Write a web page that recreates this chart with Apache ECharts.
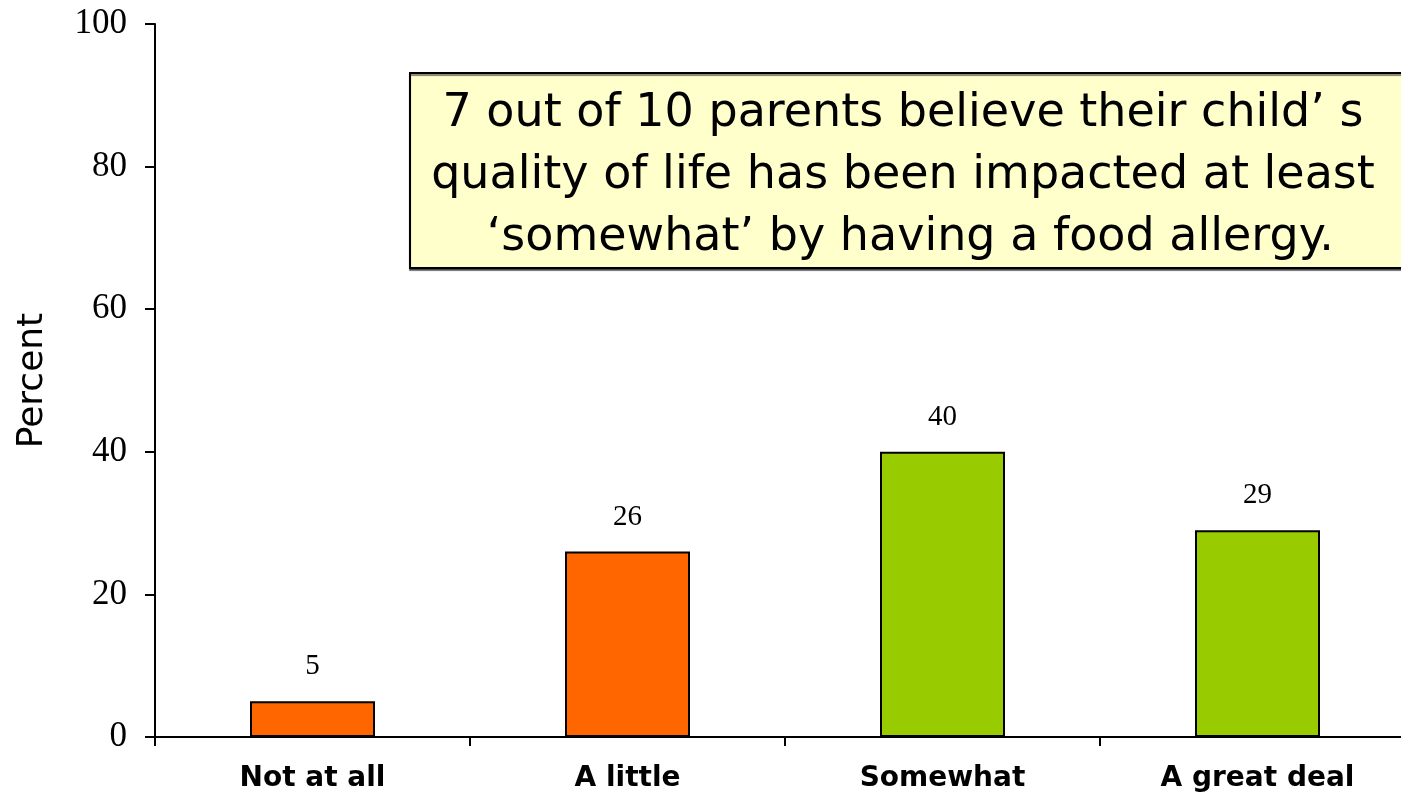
<!DOCTYPE html>
<html>
<head>
<meta charset="utf-8">
<script src="https://cdn.jsdelivr.net/npm/echarts@6/dist/echarts.min.js"></script>
<style>
    html, body { margin: 0; padding: 0; background: #fff; }
    #main { width: 1401px; height: 798px; }
</style>
</head>
<body>
<div id="main"></div>
<script>
// 数据
var categories = ['Not at all', 'A little', 'Somewhat', 'A great deal'];
var values = [5, 26, 40, 29];
var barColors = ['#ff6600', '#ff6600', '#99cc00', '#99cc00'];
var noteLines = [
    '7 out of 10 parents believe their child\u2019 s',
    'quality of life has been impacted at least',
    ' \u2018somewhat\u2019 by having a food allergy.'
];

var myChart = echarts.init(document.getElementById('main'));

var option = {
    animation: false,
    grid: {
        left: 155,
        right: -14,
        top: 24,
        bottom: 61,
        outerBoundsMode: 'none',
        containLabel: false
    },
    xAxis: {
        type: 'category',
        data: categories,
        axisLine: {
            lineStyle: { color: '#000', width: 2 }
        },
        axisTick: {
            show: true,
            length: 9,
            lineStyle: { color: '#000', width: 2 }
        },
        axisLabel: {
            margin: 28,
            color: '#000',
            fontFamily: 'DejaVu Sans',
            fontWeight: 'bold',
            fontSize: 28
        },
        splitLine: { show: false }
    },
    yAxis: {
        type: 'value',
        min: 0,
        max: 100,
        interval: 20,
        name: 'Percent',
        nameLocation: 'middle',
        nameGap: 104,
        nameTextStyle: {
            color: '#000',
            fontFamily: 'DejaVu Sans',
            fontSize: 36
        },
        axisLine: {
            show: true,
            lineStyle: { color: '#000', width: 2 }
        },
        axisTick: {
            show: true,
            length: 10,
            lineStyle: { color: '#000', width: 2 }
        },
        axisLabel: {
            margin: 28,
            color: '#000',
            fontFamily: 'Liberation Serif',
            fontSize: 35
        },
        splitLine: { show: false }
    },
    series: [
        {
            type: 'bar',
            barWidth: 125,
            data: values.map(function (v, i) {
                return {
                    value: v,
                    itemStyle: { color: barColors[i] }
                };
            }),
            itemStyle: {
                borderColor: '#000',
                borderWidth: 2
            },
            label: {
                show: true,
                position: 'top',
                distance: 20,
                color: '#000',
                fontFamily: 'Liberation Serif',
                fontSize: 29
            }
        }
    ],
    graphic: [
        {
            type: 'rect',
            shape: { x: 410, y: 73, width: 1000, height: 195 },
            style: {
                fill: '#ffffcc',
                stroke: '#000',
                lineWidth: 2,
                shadowColor: 'rgba(0,0,0,0.5)',
                shadowOffsetY: 2,
                shadowBlur: 1
            },
            z: 100
        },
        {
            type: 'text',
            x: 903,
            y: 176,
            style: {
                text: noteLines.join('\n'),
                align: 'center',
                verticalAlign: 'middle',
                fill: '#000',
                fontFamily: 'DejaVu Sans',
                fontSize: 46,
                lineHeight: 62
            },
            z: 101
        }
    ]
};

myChart.setOption(option);
</script>
</body>
</html>
